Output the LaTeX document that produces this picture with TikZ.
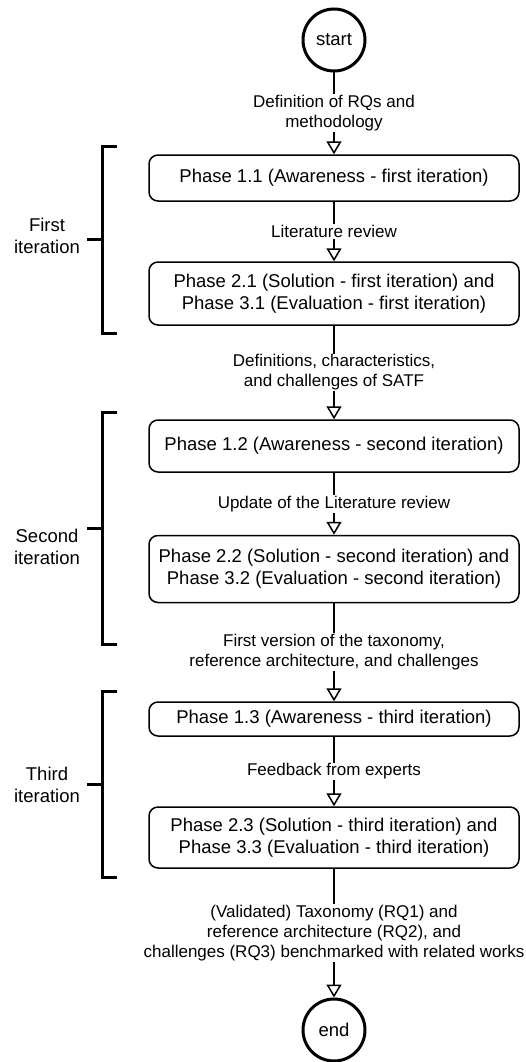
\documentclass[tikz,border=0pt]{standalone}
\usepackage{fontspec}
\setmainfont{Liberation Sans}
\usetikzlibrary{arrows.meta}
\newcommand\phasefont{\fontsize{18.5}{22}\selectfont}
\newcommand\edgefont{\fontsize{17}{20}\selectfont}

\begin{document}
\begin{tikzpicture}[x=1pt,y=1pt,
  phase/.style={draw, line width=1.5pt, rounded corners=9pt, fill=white,
    minimum width=370pt, align=center, font=\phasefont, inner sep=2pt},
  term/.style={draw, circle, line width=3pt, minimum size=62pt, inner sep=0pt,
    font=\phasefont},
  flow/.style={line width=1.5pt, -{Triangle[open, length=13pt, width=15pt]}},
  lbl/.style={midway, fill=white, inner sep=1pt, align=center, font=\edgefont},
  bracket/.style={line width=3pt},
  iterlbl/.style={align=center, font=\phasefont, inner sep=0pt}
]
\useasboundingbox (0,0) rectangle (526,-1062);

% terminals and phase boxes
\node[term] (start) at (334,-40) {start};
\node[phase, minimum height=46pt] (p11) at (334,-178) {Phase 1.1 (Awareness - first iteration)};
\node[phase, minimum height=63pt] (p21) at (334,-293.5) {Phase 2.1 (Solution - first iteration) and\\Phase 3.1 (Evaluation - first iteration)};
\node[phase, minimum height=52pt] (p12) at (334,-446) {Phase 1.2 (Awareness - second iteration)};
\node[phase, minimum height=67pt] (p22) at (334,-569) {Phase 2.2 (Solution - second iteration) and\\Phase 3.2 (Evaluation - second iteration)};
\node[phase, minimum height=34pt] (p13) at (334,-719) {Phase 1.3 (Awareness - third iteration)};
\node[phase, minimum height=61pt] (p23) at (334,-837.5) {Phase 2.3 (Solution - third iteration) and\\Phase 3.3 (Evaluation - third iteration)};
\node[term] (end) at (334,-1030) {end};

% labelled flow connectors
\draw[flow] (start) -- node[lbl] {Definition of RQs and\\methodology} (p11);
\draw[flow] (p11) -- node[lbl] {Literature review} (p21);
\draw[flow] (p21) -- node[lbl] {Definitions, characteristics,\\and challenges of SATF} (p12);
\draw[flow] (p12) -- node[lbl] {Update of the Literature review} (p22);
\draw[flow] (p22) -- node[lbl] {First version of the taxonomy,\\reference architecture, and challenges} (p13);
\draw[flow] (p13) -- node[lbl] {Feedback from experts} (p23);
\draw[flow] (p23) -- node[lbl] {(Validated) Taxonomy (RQ1) and\\reference architecture (RQ2), and\\challenges (RQ3) benchmarked with related works} (end);

% iteration brackets
\draw[bracket] (117,-146) -- (102,-146) -- (102,-333) -- (117,-333);
\draw[bracket] (87,-239.5) -- (102,-239.5);
\node[iterlbl] (it1) at (47,-236) {First\\iteration};

\draw[bracket] (117,-412) -- (102,-412) -- (102,-644) -- (117,-644);
\draw[bracket] (87,-528) -- (102,-528);
\node[iterlbl] (it2) at (47,-547) {Second\\iteration};

\draw[bracket] (117,-691) -- (102,-691) -- (102,-877) -- (117,-877);
\draw[bracket] (87,-784) -- (102,-784);
\node[iterlbl] (it3) at (47,-785) {Third\\iteration};
\end{tikzpicture}
\end{document}
